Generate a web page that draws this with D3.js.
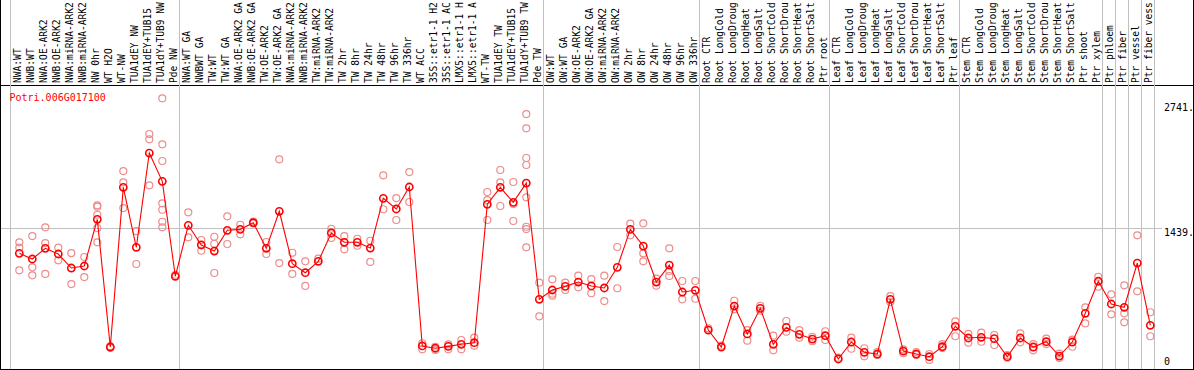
<!DOCTYPE html>
<html>
<head>
<meta charset="utf-8">
<script src="https://cdn.jsdelivr.net/npm/d3@7"></script>
<style>
  html, body { margin: 0; padding: 0; background: #fff; }
  svg { display: block; }
  text { font-family: "DejaVu Sans Mono", monospace; }
</style>
</head>
<body>
<svg id="chart" width="1194" height="370"></svg>
<script>
const title = "Potri.006G017100";

const categories = [
  "NWA:WT","NWB:WT","NWA:OE-ARK2","NWB:OE-ARK2","NWA:miRNA-ARK2","NWB:miRNA-ARK2","NW 0hr","WT H2O","WT-NW","TUA1dEY NW","TUA1dEY+TUB15","TUA1dY+TUB9 NW","Pde NW",
  "NWA:WT GA","NWBWT GA","TW:WT","TW:WT GA","NWA:OE-ARK2 GA","NWB:OE-ARK2 GA","TW:OE-ARK2","TW:OE-ARK2 GA","NWA:miRNA-ARK2","NWB:miRNA-ARK2","TW:miRNA-ARK2","TW:miRNA-ARK2","TW 2hr","TW 8hr","TW 24hr","TW 48hr","TW 96hr","TW 336hr","WT ACC","35S::etr1-1 H2","35S::etr1-1 AC","LMX5::etr1-1 H","LMX5::etr1-1 A","WT-TW","TUA1dEY TW","TUA1dEY+TUB15","TUA1dY+TUB9 TW","Pde TW",
  "OW:WT","OW:WT GA","OW:OE-ARK2","OW:OE-ARK2 GA","OW:miRNA-ARK2","OW:miRNA-ARK2","OW 2hr","OW 8hr","OW 24hr","OW 48hr","OW 96hr","OW 336hr",
  "Root CTR","Root LongCold","Root LongDroug","Root LongHeat","Root LongSalt","Root ShortCold","Root ShortDrou","Root ShortHeat","Root ShortSalt","Ptr root",
  "Leaf CTR","Leaf LongCold","Leaf LongDroug","Leaf LongHeat","Leaf LongSalt","Leaf ShortCold","Leaf ShortDrou","Leaf ShortHeat","Leaf ShortSalt","Ptr leaf",
  "Stem CTR","Stem LongCold","Stem LongDroug","Stem LongHeat","Stem LongSalt","Stem ShortCold","Stem ShortDrou","Stem ShortHeat","Stem ShortSalt","Ptr shoot","Ptr xylem",
  "Ptr phloem","Ptr fiber","Ptr vessel","Ptr fiber vess"
];

// index of the last category in each group (a divider follows it)
const groupEnds = [12, 40, 52, 62, 72, 83, 84, 85, 86, 87];

const means = [
  1179,1120,1231,1172,1026,1047,1533,203,1867,1242,2224,1929,940,
  1471,1266,1203,1419,1429,1498,1231,1617,1071,977,1096,1391,1294,1294,1234,1752,1641,1870,214,190,210,231,248,1690,1867,1710,1911,700,
  797,835,880,839,818,1033,1429,1255,880,1057,776,794,
  380,203,630,339,606,231,408,335,286,321,
  78,255,148,130,700,161,130,102,206,419,
  297,304,290,102,297,203,258,109,255,554,888,
  651,617,1078,429
];

const replicates = [
  [1294,1238,1002],[1359,1033,950],[1450,1286,964],[1238,1106],[1182,859],[1141,932],[1679,1665,1581,1443,1294],[195,210],[2036,1919,1651],[1411,1068],[2422,2367,1888],[2794,2315,2141,1700,1633,1508,1450],[956],
  [1606,1346],[1318,1206],[1352,1279,974],[1565,1276],[1477,1377],[1490,1510],[1297,1172],[2158,1078],[1185,964],[1096,839],[1123],[1435,1339],[1359,1221],[1331,1258],[1310,1089],[1992,1638],[1755,1526],[2026,1714],[242,179],[206,172],[231,179],[276,179],[300,217],[1818,1734,1526],[2047,1919,1672],[1922,1693,1516],[2630,2481,2172,2099,1763,1456,1432,1242],[873,523],
  [908,758,738],[873,797],[946,825],[911,763],[946,682],[1245,815],[1488,1367],[1492,1179,1096],[915,842],[1231,995,943],[891,700],[891,706],
  [398],[217],[685,596],[380,269],[633,581],[321,169],[474,363],[380,300],[310,263],[367,276],
  [92],[300,185],[190,106],[151,120],[734,672],[179,138],[151,120],[68,130],[234,193],[471,315],
  [339,248],[352,258],[328,224],[92,120],[346,252],[234,169],[290,234],[135,89],[279,206],[617,450],[935,831],
  [752,544],[846,554,460],[1367,783],[565,315]
];

const tickValues = [2741, 1439, 0];
const tickLabels = ["2741.", "1439.", "0"];
const gridValues = [1439];

const svg = d3.select("#chart");
const W = 1194, H = 370;

const x = d3.scaleBand()
  .domain(d3.range(categories.length))
  .range([11, 11 + 13 * categories.length]);
const px = i => x(i) + 8.3;

const y = d3.scaleLinear().domain([0, 2741]).range([366.5, 103.4]);

// frame
svg.append("line").attr("x1", 0.5).attr("x2", 0.5).attr("y1", 0).attr("y2", 369.5).attr("stroke", "#000");
svg.append("line").attr("x1", W - 0.5).attr("x2", W - 0.5).attr("y1", 0).attr("y2", 369.5).attr("stroke", "#000");
svg.append("line").attr("x1", 0).attr("x2", W).attr("y1", 85.5).attr("y2", 85.5).attr("stroke", "#000");
svg.append("line").attr("x1", 0).attr("x2", W).attr("y1", 369.5).attr("y2", 369.5).attr("stroke", "#000");

// vertical group dividers
const dividers = [x(0)].concat(groupEnds.map(i => x(i) + x.bandwidth()));
svg.append("g").selectAll("line").data(dividers).join("line")
  .attr("x1", d => Math.round(d) - 0.5).attr("x2", d => Math.round(d) - 0.5)
  .attr("y1", 0).attr("y2", 369)
  .attr("stroke", "#c0c0c0").attr("stroke-width", 1);

// horizontal grid
svg.append("g").selectAll("line").data(gridValues).join("line")
  .attr("x1", 1).attr("x2", 1162)
  .attr("y1", d => Math.round(y(d)) + 0.5).attr("y2", d => Math.round(y(d)) + 0.5)
  .attr("stroke", "#c0c0c0");

// tick labels (right axis)
svg.append("g").selectAll("text").data(tickValues).join("text")
  .attr("x", 1164)
  .attr("y", d => Math.min(y(d), 358) + 7.4)
  .attr("font-size", "10px")
  .attr("fill", "#000")
  .text((d, i) => tickLabels[i]);

// category labels
svg.append("g").selectAll("text").data(categories).join("text")
  .attr("transform", (d, i) => `translate(${px(i) + 1.6},83) rotate(-90)`)
  .attr("font-size", "9.6px")
  .attr("fill", "#000")
  .text(d => d);

// title
svg.append("text").attr("x", 9.5).attr("y", 100.6)
  .attr("font-size", "10px").attr("fill", "#ff0000").text(title);

// replicate points
const reps = [];
replicates.forEach((arr, i) => arr.forEach(v => reps.push({ i, v })));
svg.append("g").selectAll("circle").data(reps).join("circle")
  .attr("cx", d => px(d.i)).attr("cy", d => y(d.v)).attr("r", 3.5)
  .attr("fill", "none").attr("stroke", "#ee8c8c").attr("stroke-width", 1.2);

// mean line
svg.append("path")
  .datum(means)
  .attr("fill", "none").attr("stroke", "#ff0000").attr("stroke-width", 1.1)
  .attr("d", d3.line().x((d, i) => px(i)).y(d => y(d)));

// mean points
svg.append("g").selectAll("circle").data(means).join("circle")
  .attr("cx", (d, i) => px(i)).attr("cy", d => y(d)).attr("r", 3.6)
  .attr("fill", "none").attr("stroke", "#ff0000").attr("stroke-width", 1.6);
</script>
</body>
</html>
